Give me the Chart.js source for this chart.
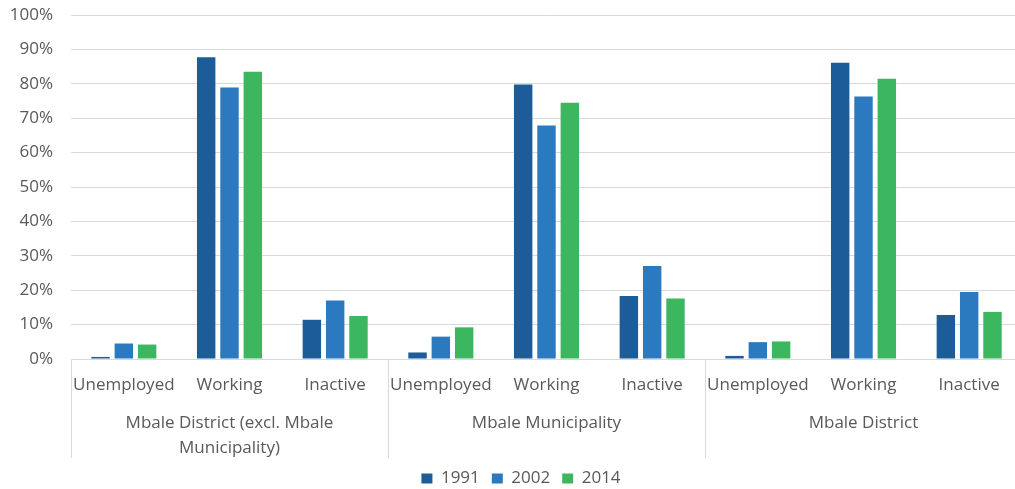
<!DOCTYPE html>
<html>
<head>
<meta charset="utf-8">
<script src="https://cdn.jsdelivr.net/npm/chart.js@4/dist/chart.umd.min.js"></script>
<style>
  html, body { margin: 0; padding: 0; overflow: hidden; background: #fff; }
  #wrap { position: relative; width: 1043px; height: 489px; }
</style>
</head>
<body>
<div id="wrap"><canvas id="labour-chart"></canvas></div>
<script>
const statuses = ['Unemployed', 'Working', 'Inactive',
                  'Unemployed', 'Working', 'Inactive',
                  'Unemployed', 'Working', 'Inactive'];
const areas = [['Mbale District (excl. Mbale', 'Municipality)'], 'Mbale Municipality', 'Mbale District'];
const years = ['1991', '2002', '2014'];

const share1991 = [0.6, 87.7, 11.4, 1.9, 79.8, 18.3, 0.9, 86.1, 12.8];
const share2002 = [4.5, 78.9, 17.0, 6.5, 67.9, 27.0, 4.9, 76.3, 19.5];
const share2014 = [4.2, 83.5, 12.5, 9.2, 74.5, 17.6, 5.1, 81.5, 13.7];

const colours = ['#1b5c99', '#2b79be', '#3db660'];
const gridCol = '#d9d9d9';
const textCol = '#595959';
const font = { family: "'Open Sans', sans-serif", size: 17 };

Chart.defaults.font.family = font.family;
Chart.defaults.color = textCol;

// vertical dividers between the area groups under the axis,
// and the legend nudged to centre on the plot rather than the canvas
const groupLines = {
  id: 'groupLines',
  afterLayout(chart) {
    if (chart.legend) chart.legend.left = chart.chartArea.left - 51;
  },
  afterDraw(chart) {
    const xs = chart.scales.x, x2 = chart.scales.x2, ctx = chart.ctx;
    ctx.save();
    ctx.strokeStyle = gridCol;
    ctx.lineWidth = 1;
    for (let g = 0; g <= areas.length; g++) {
      const px = Math.round(xs.left + g * xs.width / areas.length) + 0.5;
      ctx.beginPath();
      ctx.moveTo(px, chart.chartArea.bottom);
      ctx.lineTo(px, x2.bottom);
      ctx.stroke();
    }
    ctx.restore();
  }
};

const series = [share1991, share2002, share2014];

new Chart(document.getElementById('labour-chart'), {
  type: 'bar',
  data: {
    labels: statuses,
    datasets: years.map((y, i) => ({
      label: y,
      data: series[i],
      backgroundColor: colours[i],
      borderWidth: 0,
      categoryPercentage: 0.662,
      barPercentage: 0.79
    }))
  },
  options: {
    responsive: true,
    maintainAspectRatio: false,
    animation: false,
    layout: { padding: { left: 0, right: 21, top: 0, bottom: -8 } },
    plugins: {
      tooltip: { enabled: false },
      legend: {
        position: 'bottom',
        labels: {
          boxWidth: 11,
          boxHeight: 10,
          padding: 12,
          color: textCol,
          font: font
        }
      }
    },
    scales: {
      y: {
        min: 0,
        max: 100,
        ticks: {
          stepSize: 10,
          padding: 18,
          color: textCol,
          font: font,
          callback: v => v + '%'
        },
        grid: { color: gridCol, drawTicks: false },
        border: { display: false },
        afterFit: s => { s.width = 71; s.paddingTop = 15; s.paddingBottom = 0; }
      },
      x: {
        weight: 0,
        ticks: { padding: 16, color: textCol, font: font, maxRotation: 0, autoSkip: false },
        grid: { display: false, drawTicks: false },
        border: { display: false },
        afterFit: s => { s.height = 35; }
      },
      x2: {
        type: 'category',
        labels: areas,
        position: 'bottom',
        offset: true,
        weight: 1,
        ticks: { padding: 17, color: textCol, font: { ...font, lineHeight: 1.47 }, maxRotation: 0, autoSkip: false },
        grid: { display: false, drawTicks: false },
        border: { display: false },
        afterFit: s => { s.height = 64; }
      }
    }
  },
  plugins: [groupLines]
});
</script>
</body>
</html>
